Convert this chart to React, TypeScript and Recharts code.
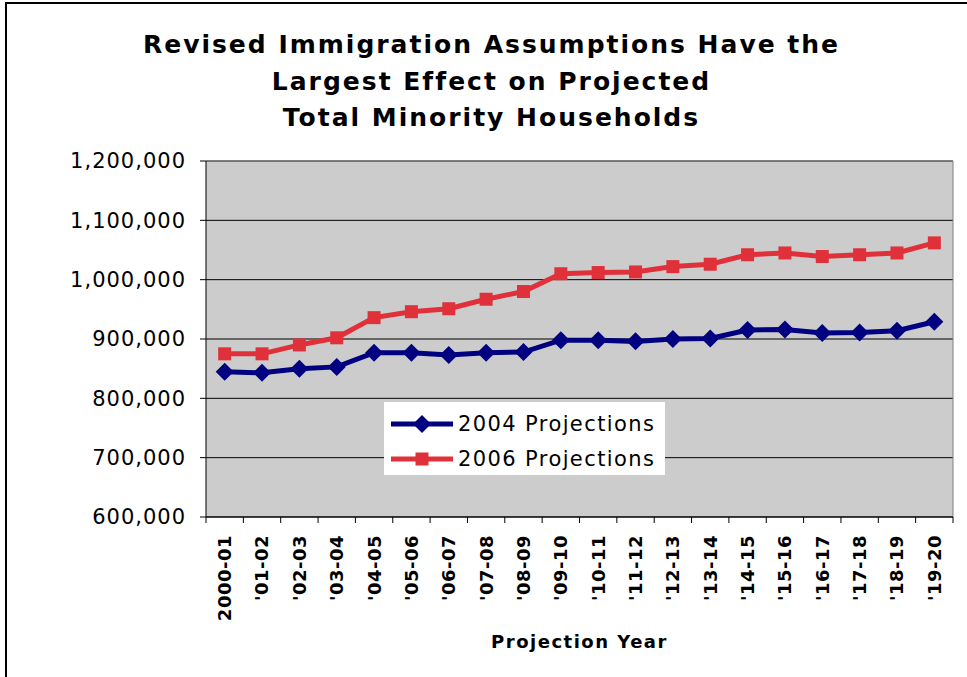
import React from 'react';
import { LineChart, Line, XAxis, YAxis, CartesianGrid, Legend, Label } from 'recharts';

const FONT = '"DejaVu Sans", Verdana, sans-serif';

const years = [
  '2000-01', "'01-02", "'02-03", "'03-04", "'04-05", "'05-06", "'06-07",
  "'07-08", "'08-09", "'09-10", "'10-11", "'11-12", "'12-13", "'13-14",
  "'14-15", "'15-16", "'16-17", "'17-18", "'18-19", "'19-20",
];

// 2004 Projections (navy diamonds)
const proj2004 = [
  845000, 843000, 850000, 853000, 877000, 877000, 873000, 877000, 878000, 898000,
  898000, 896000, 900000, 901000, 915000, 916000, 910000, 911000, 914000, 929000,
];

// 2006 Projections (red squares)
const proj2006 = [
  875000, 875000, 890000, 902000, 936000, 946000, 951000, 967000, 980000, 1010000,
  1012000, 1013000, 1022000, 1026000, 1042000, 1045000, 1039000, 1042000, 1045000, 1062000,
];

const yTicks = [600000, 700000, 800000, 900000, 1000000, 1100000, 1200000];

const titleLines = [
  'Revised Immigration Assumptions Have the',
  'Largest Effect on Projected',
  'Total Minority Households',
];

const BLUE = '#000080';
const RED = '#E0313A';

const data = years.map((year, i) => ({
  year,
  p2004: proj2004[i],
  p2006: proj2006[i],
}));

const Diamond = (props: any) => {
  const { cx, cy } = props;
  if (cx == null || cy == null) return null;
  const r = 9;
  return (
    <polygon
      points={`${cx},${cy - r} ${cx + r},${cy} ${cx},${cy + r} ${cx - r},${cy}`}
      fill={BLUE}
    />
  );
};

const Square = (props: any) => {
  const { cx, cy } = props;
  if (cx == null || cy == null) return null;
  return <rect x={cx - 6.5} y={cy - 6.5} width={13} height={13} fill={RED} />;
};

const TICK_SIZE = 6;
const TICK_MARGIN = 12;

// year labels are rotated, tick marks sit between categories like Excel
const YearTick = (props: any) => {
  const { x, y, payload, index, visibleTicksCount, width } = props;
  const half = payload?.offset || width / visibleTicksCount / 2;
  const axisY = y - TICK_SIZE - TICK_MARGIN;
  return (
    <g>
      <line x1={x - half} x2={x - half} y1={axisY} y2={axisY + TICK_SIZE} stroke="#000" />
      {index === visibleTicksCount - 1 && (
        <line x1={x + half} x2={x + half} y1={axisY} y2={axisY + TICK_SIZE} stroke="#000" />
      )}
      <text
        x={x}
        y={y}
        transform={`rotate(-90, ${x}, ${y})`}
        textAnchor="end"
        dy="0.36em"
        fontFamily={FONT}
        fontWeight="bold"
        fontSize={18}
        letterSpacing={0.5}
        fill="#000"
      >
        {payload.value}
      </text>
    </g>
  );
};

const LegendBox = (props: any) => {
  const { payload = [] } = props;
  return (
    <div style={{ background: '#fff', height: '100%', boxSizing: 'border-box', padding: '4px 0 0 7px' }}>
      {payload.map((entry: any, i: number) => (
        <div key={entry.value} style={{ display: 'flex', alignItems: 'center', height: 35 }}>
          <svg width={62} height={20} style={{ marginRight: 5 }}>
            <line x1={0} x2={62} y1={10} y2={10} stroke={entry.color} strokeWidth={5} />
            {i === 0 ? (
              <polygon points="31,1 40,10 31,19 22,10" fill={entry.color} />
            ) : (
              <rect x={24.5} y={3.5} width={13} height={13} fill={entry.color} />
            )}
          </svg>
          <span style={{ fontFamily: FONT, fontSize: 21, letterSpacing: 1.4, color: '#000' }}>
            {entry.value}
          </span>
        </div>
      ))}
    </div>
  );
};

export default function App() {
  return (
    <div
      style={{
        position: 'absolute',
        left: 0,
        top: 0,
        width: 967,
        height: 677,
        overflow: 'hidden',
        background: '#fff',
      }}
    >
      <div
        style={{
          position: 'absolute',
          left: 5,
          top: 2,
          width: 1000,
          height: 720,
          border: '2px solid #000',
        }}
      />
      <div
        style={{
          position: 'absolute',
          left: 0,
          top: 27,
          width: 983,
          textAlign: 'center',
          fontFamily: FONT,
          fontWeight: 'bold',
          fontSize: 25,
          lineHeight: '36.5px',
          letterSpacing: 2,
          color: '#000',
        }}
      >
        {titleLines.map((t) => (
          <div key={t}>{t}</div>
        ))}
      </div>
      <div style={{ position: 'absolute', left: 0, top: 0 }}>
        <LineChart
          width={967}
          height={677}
          data={data}
          margin={{ top: 161, right: 14, bottom: 0, left: 0 }}
        >
          <CartesianGrid vertical={false} stroke="#000" fill="#CCCCCC" />
          <CartesianGrid
            stroke="#808080"
            horizontalCoordinatesGenerator={({ offset }: any) => [offset.top]}
            verticalCoordinatesGenerator={({ offset }: any) => [offset.left + offset.width]}
          />
          <XAxis
            dataKey="year"
            scale="band"
            interval={0}
            height={160}
            tickLine={false}
            tickSize={TICK_SIZE}
            tickMargin={TICK_MARGIN}
            axisLine={{ stroke: '#000' }}
            tick={<YearTick />}
          >
            <Label
              value="Projection Year"
              position="insideBottom"
              offset={29}
              fill="#000"
              fontFamily={FONT}
              fontWeight="bold"
              fontSize={18}
              letterSpacing={1.5}
            />
          </XAxis>
          <YAxis
            width={206}
            domain={[600000, 1200000]}
            ticks={yTicks}
            interval={0}
            tickFormatter={(v: number) => v.toLocaleString('en-US')}
            tick={{ fill: '#000', fontSize: 21, fontFamily: FONT, letterSpacing: 1 }}
            tickSize={6}
            tickMargin={14}
            axisLine={{ stroke: '#000' }}
            tickLine={{ stroke: '#000' }}
          />
          <Line
            dataKey="p2004"
            name="2004 Projections"
            stroke={BLUE}
            strokeWidth={5}
            dot={<Diamond />}
            activeDot={false}
            isAnimationActive={false}
          />
          <Line
            dataKey="p2006"
            name="2006 Projections"
            stroke={RED}
            strokeWidth={5}
            dot={<Square />}
            activeDot={false}
            isAnimationActive={false}
          />
          <Legend
            layout="vertical"
            align="center"
            verticalAlign="middle"
            content={<LegendBox />}
            wrapperStyle={{ left: 384, top: 402, width: 281, height: 73 }}
          />
        </LineChart>
      </div>
    </div>
  );
}
